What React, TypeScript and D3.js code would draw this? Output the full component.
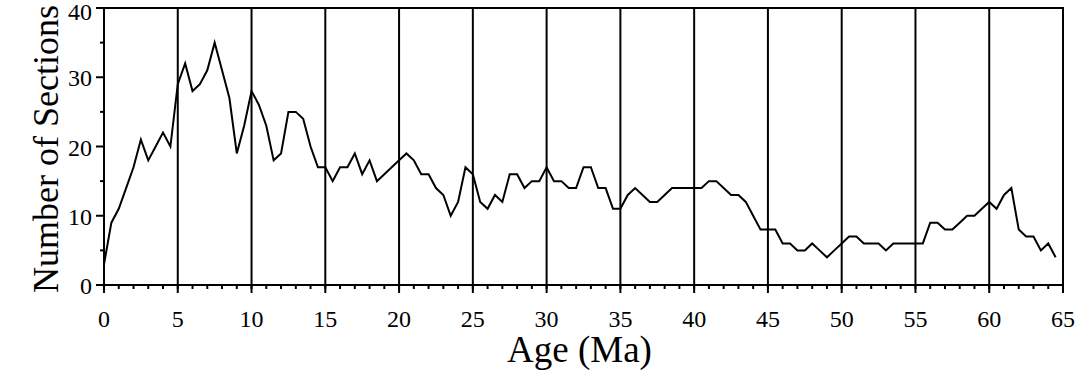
import { line, range, scaleLinear } from 'd3'

const width = 1076
const height = 374
const margin = { top: 8, right: 13, bottom: 89, left: 104 }
const innerWidth = width - margin.left - margin.right
const innerHeight = height - margin.top - margin.bottom

const step = 0.5
// number of sections sampled every 0.5 Ma
const sectionCounts = [
  3, 9, 11, 14, 17, 21, 18, 20, 22, 20,
  29, 32, 28, 29, 31, 35, 31, 27, 19, 23,
  28, 26, 23, 18, 19, 25, 25, 24, 20, 17,
  17, 15, 17, 17, 19, 16, 18, 15, 16, 17,
  18, 19, 18, 16, 16, 14, 13, 10, 12, 17,
  16, 12, 11, 13, 12, 16, 16, 14, 15, 15,
  17, 15, 15, 14, 14, 17, 17, 14, 14, 11,
  11, 13, 14, 13, 12, 12, 13, 14, 14, 14,
  14, 14, 15, 15, 14, 13, 13, 12, 10, 8,
  8, 8, 6, 6, 5, 5, 6, 5, 4, 5,
  6, 7, 7, 6, 6, 6, 5, 6, 6, 6,
  6, 6, 9, 9, 8, 8, 9, 10, 10, 11,
  12, 11, 13, 14, 8, 7, 7, 5, 6, 4,
]
const ages = sectionCounts.map((_, i) => i * step)

const xTicks = range(0, 66, 5)
const xMinorTicks = range(0, 66, 1)
const yTicks = [0, 10, 20, 30, 40]
const yMinorTicks = [5, 15, 25, 35]

const font = '"Liberation Serif", "Times New Roman", serif'

export default function App() {
  const x = scaleLinear().domain([0, 65]).range([0, innerWidth])
  const y = scaleLinear().domain([0, 40]).range([innerHeight, 0])

  const path = line<number>()
    .x((_, i) => x(ages[i]))
    .y((d) => y(d))

  return (
    <svg
      width={width}
      height={height}
      style={{ position: 'absolute', left: 0, top: 0, background: '#fff' }}
    >
      <g transform={`translate(${margin.left},${margin.top})`}>
        {/* frame */}
        <rect
          width={innerWidth}
          height={innerHeight}
          fill="none"
          stroke="#000"
          strokeWidth={2}
        />

        {/* vertical grid lines + x ticks */}
        {xTicks.map((t) => (
          <line
            key={`g${t}`}
            x1={x(t)}
            x2={x(t)}
            y1={0}
            y2={innerHeight + 8}
            stroke="#000"
            strokeWidth={2}
          />
        ))}
        {xMinorTicks.map((t) => (
          <line
            key={`m${t}`}
            x1={x(t)}
            x2={x(t)}
            y1={innerHeight}
            y2={innerHeight + 4}
            stroke="#000"
            strokeWidth={2}
          />
        ))}
        {xTicks.map((t) => (
          <text
            key={`xl${t}`}
            x={x(t)}
            y={innerHeight + 42}
            textAnchor="middle"
            fontFamily={font}
            fontSize={24}
          >
            {t}
          </text>
        ))}

        {/* y ticks */}
        {yTicks.map((t) => (
          <line
            key={`yt${t}`}
            x1={-8}
            x2={0}
            y1={y(t)}
            y2={y(t)}
            stroke="#000"
            strokeWidth={2}
          />
        ))}
        {yMinorTicks.map((t) => (
          <line
            key={`ym${t}`}
            x1={-4}
            x2={0}
            y1={y(t)}
            y2={y(t)}
            stroke="#000"
            strokeWidth={2}
          />
        ))}
        {yTicks.map((t) => (
          <text
            key={`yl${t}`}
            x={-12}
            y={Math.max(y(t) + 9, 12)}
            textAnchor="end"
            fontFamily={font}
            fontSize={24}
          >
            {t}
          </text>
        ))}

        <path d={path(sectionCounts) ?? ''} fill="none" stroke="#000" strokeWidth={2} />

        <text
          x={innerWidth / 2 - 4}
          y={innerHeight + 77}
          textAnchor="middle"
          fontFamily={font}
          fontSize={37}
        >
          Age (Ma)
        </text>
        <text
          transform={`translate(${58 - margin.left},${149 - margin.top}) rotate(-90)`}
          textAnchor="middle"
          fontFamily={font}
          fontSize={36}
        >
          Number of Sections
        </text>
      </g>
    </svg>
  )
}
